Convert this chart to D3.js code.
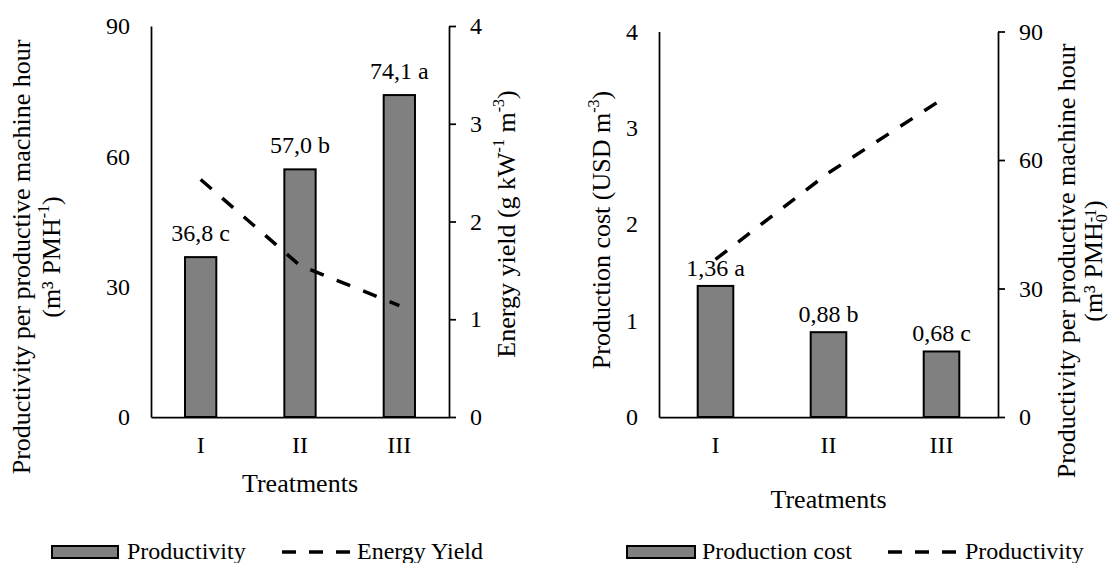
<!DOCTYPE html>
<html>
<head>
<meta charset="utf-8">
<script src="https://cdn.jsdelivr.net/npm/d3@7/dist/d3.min.js"></script>
<style>
  body { margin: 0; background: #fff; }
  svg text { font-family: "Liberation Serif", "Times New Roman", serif; fill: #000; }
</style>
</head>
<body>
<svg id="chart" width="1111" height="563"></svg>
<script>
// data
const treatments = ['I', 'II', 'III'];
const productivity = [36.8, 57.0, 74.1];
const productivityLetters = ['c', 'b', 'a'];
const energyYield = [2.43, 1.55, 1.14];
const productionCost = [1.36, 0.88, 0.68];
const costLetters = ['a', 'b', 'c'];
const productivityTicks = [0, 30, 60, 90];
const energyTicks = [0, 1, 2, 3, 4];
const costTicks = [0, 1, 2, 3, 4];

const locale = d3.formatLocale({ decimal: ',', thousands: '.', grouping: [3], currency: ['', ''] });
const tickFmt = d3.format('d');

const svg = d3.select('#chart');

function drawPanel(p) {
  const g = svg.append('g');

  const x = d3.scaleBand()
    .domain(treatments)
    .range([p.left, p.right])
    .paddingInner(0.685)
    .paddingOuter(0.3425);

  const yL = d3.scaleLinear().domain(p.leftDomain).range([p.bottom, p.top]);
  const yR = d3.scaleLinear().domain(p.rightDomain).range([p.bottom, p.top]);

  // bars
  g.append('g')
    .selectAll('rect')
    .data(p.bars)
    .enter().append('rect')
    .attr('x', (d, i) => x(treatments[i]))
    .attr('y', d => yL(d))
    .attr('width', x.bandwidth())
    .attr('height', d => yL(0) - yL(d))
    .style('fill', '#808080')
    .style('stroke', '#000')
    .style('stroke-width', 2);

  // value labels
  const fmt = locale.format(`.${p.decimals}f`);
  g.append('g')
    .selectAll('text')
    .data(p.bars)
    .enter().append('text')
    .attr('x', (d, i) => x(treatments[i]) + x.bandwidth() / 2)
    .attr('y', d => yL(d) - p.labelGap)
    .attr('text-anchor', 'middle')
    .style('font-size', '24px')
    .text((d, i) => `${fmt(d)} ${p.letters[i]}`);

  // dashed line on secondary axis
  const line = d3.line()
    .x((d, i) => x(treatments[i]) + x.bandwidth() / 2)
    .y(d => yR(d));

  g.append('path')
    .datum(p.line)
    .attr('d', line)
    .style('fill', 'none')
    .style('stroke', '#000')
    .style('stroke-width', 3.5)
    .style('stroke-dasharray', '14.5,14');

  // axes
  const axL = g.append('g')
    .attr('transform', `translate(${p.left},0)`)
    .call(d3.axisLeft(yL).tickValues(p.leftTicks).tickFormat(tickFmt)
      .tickSize(0).tickSizeOuter(0).tickPadding(21));

  const axR = g.append('g')
    .attr('transform', `translate(${p.right},0)`)
    .call(d3.axisRight(yR).tickValues(p.rightTicks).tickFormat(tickFmt)
      .tickSize(7).tickSizeOuter(0).tickPadding(14));

  const axB = g.append('g')
    .attr('transform', `translate(0,${p.bottom})`)
    .call(d3.axisBottom(x).tickSize(0).tickSizeOuter(0).tickPadding(0));

  [axL, axR, axB].forEach(a => {
    a.selectAll('path, line').style('stroke', '#000').style('stroke-width', 1.75);
    a.selectAll('text')
      .style('font-family', '"Liberation Serif", "Times New Roman", serif')
      .style('font-size', '24px')
      .style('fill', '#000');
  });
  axB.selectAll('text').attr('dy', null).attr('y', 36);

  // x title
  g.append('text')
    .attr('x', (p.left + p.right) / 2)
    .attr('y', p.xTitleY)
    .attr('text-anchor', 'middle')
    .style('font-size', '26px')
    .text('Treatments');

  return g;
}

function yTitle(lines, xs, cy) {
  lines.forEach((parts, li) => {
    const t = svg.append('text')
      .attr('transform', `translate(${xs[li]},${cy}) rotate(-90)`)
      .attr('text-anchor', 'middle')
      .style('font-size', '26px');
    parts.forEach(pt => {
      const s = t.append('tspan').text(pt.t);
      if (pt.sup) s.style('font-size', '16px').attr('dy', -11);
      if (pt.sub) s.style('font-size', '16px').attr('dy', 5);
      if (pt.back) s.attr('dy', pt.back);
      if (pt.dx) s.attr('dx', pt.dx);
    });
  });
}

// panel A: productivity bars, energy yield line
drawPanel({
  left: 151, right: 449, top: 26, bottom: 417,
  leftDomain: [0, 90], leftTicks: productivityTicks,
  rightDomain: [0, 4], rightTicks: energyTicks,
  bars: productivity, decimals: 1, letters: productivityLetters,
  line: energyYield, labelGap: 16, xTitleY: 492
});

// panel B: production cost bars, productivity line
drawPanel({
  left: 659, right: 998, top: 31.5, bottom: 417,
  leftDomain: [0, 4], leftTicks: costTicks,
  rightDomain: [0, 90], rightTicks: productivityTicks,
  bars: productionCost, decimals: 2, letters: costLetters,
  line: productivity, labelGap: 10, xTitleY: 508
});

// axis titles
yTitle([
  [{ t: 'Productivity per productive machine hour' }],
  [{ t: '(m³ PMH' }, { t: '-1', sup: true }, { t: ')', back: 11 }]
], [30, 60], 257);

yTitle([
  [{ t: 'Energy yield (g kW' }, { t: '-1', sup: true }, { t: ' m', back: 11 }, { t: '-3', sup: true }, { t: ')', back: 11 }]
], [515], 224);

yTitle([
  [{ t: 'Production cost (USD m' }, { t: '-3', sup: true }, { t: ')', back: 11 }]
], [610], 230);

yTitle([
  [{ t: 'Productivity per productive machine hour' }],
  [{ t: '(m³ PMH' }, { t: '0', sub: true }, { t: '-1', sup: true, dx: -8 }, { t: ')', back: 6 }]
], [1075, 1102], 261);

// legends
function legend(rx, rw, t1x, label1, dx1, dx2, t2x, label2) {
  const lg = svg.append('g');
  lg.append('rect')
    .attr('x', rx).attr('y', 546).attr('width', rw).attr('height', 12)
    .style('fill', '#808080').style('stroke', '#000').style('stroke-width', 2);
  lg.append('text').attr('x', t1x).attr('y', 559).style('font-size', '24px').text(label1);
  lg.append('line')
    .attr('x1', dx1).attr('x2', dx2).attr('y1', 552).attr('y2', 552)
    .style('stroke', '#000').style('stroke-width', 3.5).style('stroke-dasharray', '14,13');
  lg.append('text').attr('x', t2x).attr('y', 559).style('font-size', '24px').text(label2);
}

legend(52, 66, 127, 'Productivity', 282, 350, 357, 'Energy Yield');
legend(627, 68, 702, 'Production cost', 888, 958, 965, 'Productivity');
</script>
</body>
</html>
